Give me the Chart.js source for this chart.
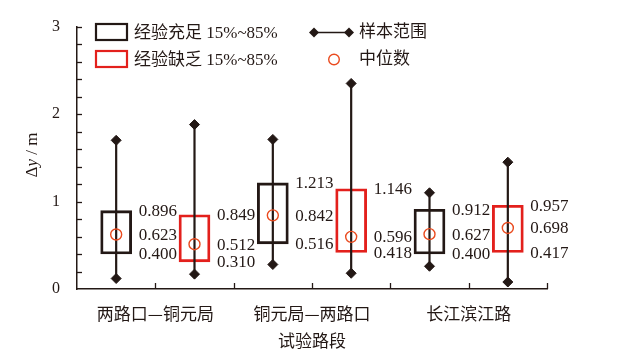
<!DOCTYPE html>
<html><head><meta charset="utf-8">
<script src="https://cdn.jsdelivr.net/npm/chart.js@4.4.1/dist/chart.umd.min.js"></script>
<style>html,body{margin:0;padding:0;background:#fff;}#wrap{width:622px;height:361px;}</style>
</head><body><div id="wrap"><canvas id="c" width="622" height="361"></canvas></div>
<script>
// ---- data ----
const categories = ['两路口—铜元局', '铜元局—两路口', '长江滨江路'];
const groupNames = ['经验充足 15%~85%', '经验缺乏 15%~85%'];
const rangeName = '样本范围';
const medianName = '中位数';
const xTitle = '试验路段';
// box order: cat1 充足, cat1 缺乏, cat2 充足, cat2 缺乏, cat3 充足, cat3 缺乏
const boxPos  = [0.5, 1.5, 2.5, 3.5, 4.5, 5.5];
const q15     = [0.400, 0.310, 0.516, 0.418, 0.400, 0.417];
const medians = [0.623, 0.512, 0.842, 0.596, 0.627, 0.698];
const q85     = [0.896, 0.849, 1.213, 1.146, 0.912, 0.957];
const mins    = [0.12, 0.17, 0.28, 0.18, 0.26, 0.08];
const maxs    = [1.70, 1.88, 1.71, 2.35, 1.10, 1.45];
const yLabelTicks = [0, 1, 2, 3];

const INK = '#231815', RED = '#e3201c', MED = '#ea4a1e';
const SERIF = "'Liberation Serif','Noto Sans CJK SC'";
const BOXW = 31;

const datasets = [];
datasets.push({
  type: 'scatter', label: medianName, order: 0,
  data: boxPos.map((x, i) => ({x, y: medians[i]})),
  pointStyle: 'circle', pointRadius: 5.5, pointBorderWidth: 1.4,
  pointBorderColor: MED, pointBackgroundColor: 'rgba(0,0,0,0)', showLine: false
});
boxPos.forEach((x, i) => {
  datasets.push({
    type: 'line', label: rangeName, order: 1,
    data: [{x, y: mins[i]}, {x, y: maxs[i]}],
    borderColor: INK, borderWidth: 2.2, pointStyle: 'rectRot', pointRadius: 5,
    pointBackgroundColor: INK, pointBorderColor: INK, pointBorderWidth: 1
  });
});
[0, 1].forEach(g => {
  const idx = boxPos.map((_, i) => i).filter(i => i % 2 === g);
  datasets.push({
    type: 'bar', label: groupNames[g], order: 2, grouped: false,
    data: idx.map(i => ({x: boxPos[i], y: [q15[i], q85[i]]})),
    backgroundColor: 'rgba(0,0,0,0)', borderColor: g === 0 ? INK : RED,
    borderWidth: 2.2, borderSkipped: false, barThickness: BOXW
  });
});

const deco = {
  id: 'deco',
  afterDatasetsDraw(chart) {
    const ctx = chart.ctx, xs = chart.scales.x, ys = chart.scales.y;
    const ca = chart.chartArea;
    ctx.save();
    // inward ticks
    ctx.strokeStyle = INK; ctx.lineWidth = 1.3;
    ys.ticks.forEach(t => {
      const py = Math.round(ys.getPixelForValue(t.value)) + 0.5;
      if (t.value <= 0.001) return;
      ctx.beginPath(); ctx.moveTo(ca.left, py); ctx.lineTo(ca.left + 5, py); ctx.stroke();
    });
    xs.ticks.forEach(t => {
      if (t.value < 0.5) return;
      const px = Math.round(xs.getPixelForValue(t.value)) + 0.5;
      ctx.beginPath(); ctx.moveTo(px, ca.bottom); ctx.lineTo(px, ca.bottom - 6); ctx.stroke();
    });
    // value labels
    ctx.fillStyle = INK; ctx.font = '17px ' + SERIF;
    ctx.textAlign = 'left'; ctx.textBaseline = 'middle';
    boxPos.forEach((x, i) => {
      const lx = xs.getPixelForValue(x) + BOXW / 2 + 7;
      [q85[i], medians[i], q15[i]].forEach(v => {
        ctx.fillText(v.toFixed(3), lx, ys.getPixelForValue(v) + 1);
      });
    });
    // legend
    ctx.lineWidth = 2.2;
    ctx.strokeStyle = INK; ctx.strokeRect(96, 24, 31, 16);
    ctx.strokeStyle = RED; ctx.strokeRect(96, 51, 31, 16);
    ctx.fillStyle = INK; ctx.font = '17px ' + SERIF;
    ctx.fillText(groupNames[0], 134, 34);
    ctx.fillText(groupNames[1], 134, 61);
    ctx.strokeStyle = INK; ctx.lineWidth = 1.3;
    ctx.beginPath(); ctx.moveTo(314, 32.5); ctx.lineTo(349, 32.5); ctx.stroke();
    [314, 349].forEach(cx => {
      ctx.beginPath(); ctx.moveTo(cx, 27.5); ctx.lineTo(cx + 5, 32.5); ctx.lineTo(cx, 37.5); ctx.lineTo(cx - 5, 32.5); ctx.closePath(); ctx.fill();
    });
    ctx.strokeStyle = MED; ctx.lineWidth = 1.4;
    ctx.beginPath(); ctx.arc(334, 59.5, 5.3, 0, Math.PI * 2); ctx.stroke();
    ctx.fillText(rangeName, 359, 33);
    ctx.fillText(medianName, 359, 60);
    // x title
    ctx.textAlign = 'center';
    ctx.fillText(xTitle, (ca.left + ca.right) / 2, 343);
    // y title: Δy / m
    ctx.translate(33, 155); ctx.rotate(-Math.PI / 2);
    const parts = [['Δ', '17px ' + SERIF], ['y', 'italic 17px ' + SERIF], [' / m', '17px ' + SERIF]];
    let total = 0;
    parts.forEach(p => { ctx.font = p[1]; total += ctx.measureText(p[0]).width; });
    let px = -total / 2;
    ctx.textAlign = 'left';
    parts.forEach(p => { ctx.font = p[1]; ctx.fillText(p[0], px, 0); px += ctx.measureText(p[0]).width; });
    ctx.restore();
  }
};

new Chart(document.getElementById('c'), {
  type: 'bar',
  data: { datasets },
  options: {
    responsive: false, animation: false,
    layout: { padding: { top: 23, right: 75, left: 0, bottom: 0 } },
    plugins: { legend: { display: false }, tooltip: { enabled: false } },
    scales: {
      x: {
        type: 'linear', min: 0, max: 6, offset: false,
        grid: { display: false, drawTicks: false, offset: false },
        border: { display: true, color: INK, width: 1.5 },
        afterFit(s) { s.height = 72; },
        afterBuildTicks(s) { s.ticks = [0,1,2,3,4,5,6].map(v => ({value: v})); },
        ticks: {
          autoSkip: false, maxRotation: 0, minRotation: 0, padding: 14, color: INK,
          font: { family: "'Noto Sans CJK SC'", size: 17 },
          callback: v => (v % 2 === 1 ? categories[(v - 1) / 2] : '')
        }
      },
      y: {
        type: 'linear', min: 0, max: 3,
        grid: { display: false, drawTicks: false },
        border: { display: true, color: INK, width: 1.5 },
        afterFit(s) { s.width = 77; },
        afterBuildTicks(s) { const t = []; for (let i = 0; i <= 15; i++) t.push({value: i / 5}); s.ticks = t; },
        ticks: {
          autoSkip: false, padding: 17, color: INK,
          font: { family: "'Liberation Serif'", size: 16 },
          callback: v => (yLabelTicks.some(k => Math.abs(k - v) < 1e-6) ? String(Math.round(v)) : '')
        }
      }
    }
  },
  plugins: [deco]
});
</script></body></html>
